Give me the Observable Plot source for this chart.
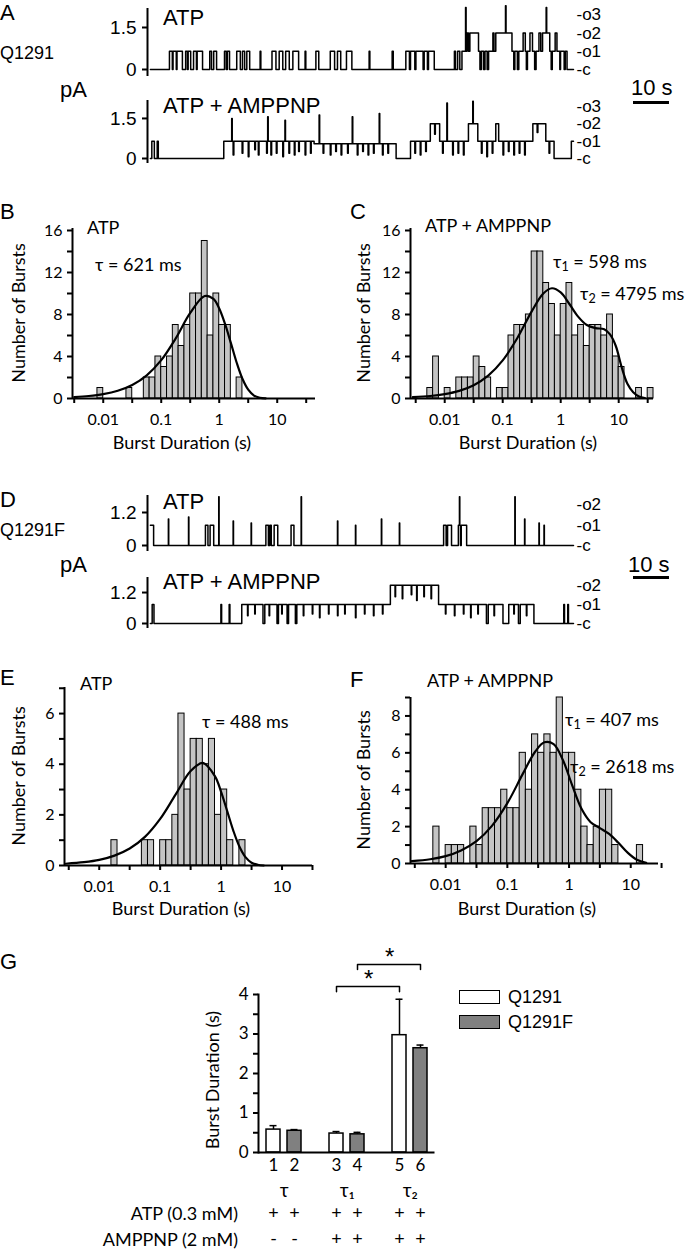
<!DOCTYPE html>
<html><head><meta charset="utf-8">
<script src="https://cdn.jsdelivr.net/npm/d3@7"></script>
<script src="https://cdn.jsdelivr.net/npm/@observablehq/plot@0.6"></script>
<style>
body{margin:0;background:#fff;}
#root{position:relative;width:693px;height:1250px;overflow:hidden;background:#fff;color:#000}
.t{position:absolute;white-space:nowrap;line-height:1}
.t sub{font-size:0.7em;vertical-align:-0.25em}
</style></head><body><div id="root"></div>
<script>
// ---------------- DATA ----------------
// Single-channel traces: [time (s), conductance level index]
const unitA = 0.65;   // pA per open channel, Q1291
const unitD = 0.74;   // pA per open channel, Q1291F
const statesA = ["c","o1","o2","o3"];
const statesD = ["c","o1","o2"];
const yTicksA = [0, 1.5];
const yTicksD = [0, 1.2];

const traceA_ATP = [[0,0],[5.3,1],[6.1,0],[6.3,1],[7.2,0],[7.4,1],[8.9,0],[9.8,1],[10.3,0],[10.5,1],[11.2,0],
 [12.0,1],[12.8,0],[13.0,1],[14.5,0],[16.5,1],[17.0,0],[17.6,1],[18.4,0],[20.6,1],[21.1,0],[21.4,1],[22.0,0],
 [24.0,1],[25.0,0],[25.6,1],[26.2,0],[26.8,1],[27.6,0],[30.5,1],[30.7,0],[33.8,1],[34.9,0],[35.8,1],[36.8,0],
 [37.6,1],[38.6,0],[39.6,1],[41.2,0],[43.0,1],[43.2,0],[46.0,1],[46.8,0],[50.0,1],[51.2,0],[52.0,1],[52.9,0],
 [54.5,1],[56.0,0],[60.8,1],[61.0,0],[67.2,1],[67.5,0],[71.0,1],[72.0,0],[72.3,1],[73.5,0],[73.8,1],[75.8,0],
 [76.1,1],[77.0,0],[77.3,1],[78.9,0],[84.5,1],[84.8,0],[85.4,1],[86.0,0],[86.6,1],[87.6,3.4],[87.75,1],[88.0,2],
 [88.4,1],[88.8,2],[91.2,1],[91.6,0],[92.0,1],[92.6,0],[93.0,1],[93.6,0],[94.0,1],[95.2,2],[95.5,1],[96.0,2],
 [98.7,3.5],[98.85,2],[100.5,1],[101.0,0],[101.3,1],[102.0,0],[102.4,1],[103.6,2],[104.2,1],[104.5,0],[104.8,1],
 [105.5,2],[106.2,1],[106.8,0],[107.2,1],[108.0,2],[108.5,1],[109.0,2],[110.0,3.4],[110.15,2],[111.0,1],[111.4,0],
 [111.7,1],[112.5,2],[113.0,1],[113.8,0],[114.0,1],[115.0,0],[115.3,1],[115.8,0],[117.6,0]];

const traceA_AMP = [[0,0],[0.4,1],[1.1,0],[1.9,1],[2.2,0],[20.4,1],[22.6,2.3],[22.75,1],[23.0,0.2],[23.2,1],
 [25.5,0.3],[25.7,1],[27.2,0.1],[27.4,1],[29.0,0.5],[29.2,1],[30.0,0.2],[30.2,1],[32.3,0.3],[32.5,1],[32.6,2.4],
 [32.75,1],[33.5,0.2],[33.7,1],[35.0,0.3],[35.2,1],[36.8,0.1],[37.0,1],[37.4,2.2],[37.55,1],[38.5,0.3],[38.7,1],
 [40.0,0.2],[40.2,1],[41.2,0.4],[41.4,1],[43.0,0.2],[43.2,1],[44.5,0.3],[44.7,1],[45.5,0.85],[46.9,2.5],[47.05,0.85],
 [48.0,0.3],[48.2,0.85],[50.0,0.2],[50.2,0.85],[51.5,0.4],[51.7,0.85],[53.0,0.2],[53.2,0.85],[54.8,0.3],[55.0,0.85],
 [56.1,2.4],[56.25,0.85],[57.5,0.2],[57.7,0.85],[59.0,0.4],[59.2,0.85],[60.5,0.2],[60.7,0.85],[62.0,0.3],[62.2,0.85],
 [63.6,2.6],[63.75,0.85],[64.5,0.2],[64.7,0.85],[66.0,0.3],[66.2,0.85],[68.3,0],[72.3,1],[73.5,0.3],[73.7,1],
 [75.0,0.2],[75.2,1],[76.5,0.4],[76.7,1],[77.8,2],[79.0,1.4],[79.2,2],[80.4,1],[81.2,0.3],[81.4,1],[82.4,3.2],
 [82.55,1],[84.0,0.2],[84.2,1],[85.5,0.3],[85.7,1],[87.0,0.2],[87.2,1],[88.4,2],[89.6,3.3],[89.75,2],[91.0,1],
 [92.0,0.3],[92.2,1],[93.5,0.1],[93.7,1],[95.0,0.3],[95.2,1],[96.0,2],[96.8,1],[98.0,0.2],[98.2,1],[99.5,0.4],
 [99.7,1],[101.0,0.2],[101.2,1],[102.5,0.3],[102.7,1],[104.0,0.2],[104.2,1],[106.3,2],[107.5,1.5],[107.7,2],
 [109.9,1],[110.8,0.3],[111.0,1],[112.2,0],[117.0,1],[117.6,1]];

const traceD_ATP = [[0,1],[0.9,0],[5.0,1.3],[5.1,0],[10.6,1.4],[10.7,0],[15.3,1],[16.0,0],[16.6,1],[17.6,0],
 [19.0,2.4],[19.1,0],[23.0,1.2],[23.1,0],[28.0,1.1],[28.1,0],[32.1,1],[32.8,0],[33.2,1],[33.6,0],[34.4,1],[35.4,0],
 [39.1,1],[39.9,0],[41.9,2.4],[42.0,0],[52.0,1.2],[52.1,0],[57.0,1.0],[57.1,0],[64.2,1.3],[64.3,0],[69.2,1.1],
 [69.3,0],[81.5,1],[82.2,0],[82.6,1],[83.7,0],[85.6,1],[85.9,2.4],[86.0,1],[86.2,0],[86.4,1],[87.9,0],[101.3,2.4],
 [101.4,0],[104.0,1.3],[104.1,0],[108.0,1.1],[108.1,0],[109.4,1.0],[109.5,0],[117.6,0]];

const traceD_AMP = [[0,0],[0.5,1],[1.0,0],[19.6,1],[19.8,0],[21.9,1],[22.1,0],[25.4,1],[27.0,0.4],[27.15,1],
 [29.0,0.5],[29.15,1],[31.3,0],[31.8,1],[33.0,0.4],[33.15,1],[35.2,0],[35.6,1],[36.5,0.5],[36.65,1],[38.0,0],
 [38.4,1],[40.3,0],[40.7,1],[42.5,0.4],[42.65,1],[45.0,0.5],[45.15,1],[47.0,0.3],[47.15,1],[49.5,0.5],[49.65,1],
 [52.0,0.4],[52.15,1],[54.0,0.5],[54.15,1],[57.0,0.3],[57.15,1],[59.5,0.5],[59.65,1],[62.0,0.4],[62.15,1],
 [64.5,0.5],[64.65,1],[66.7,2],[68.0,1.4],[68.15,2],[70.0,1.3],[70.15,2],[72.5,1.5],[72.65,2],[74.0,1.2],[74.15,2],
 [76.0,1.4],[76.15,2],[78.0,1.3],[78.15,2],[80.1,1],[82.0,0.5],[82.15,1],[84.5,0.4],[84.65,1],[87.0,0.5],[87.15,1],
 [89.0,0.3],[89.15,1],[91.0,0.5],[91.15,1],[93.4,0],[93.9,1],[95.5,0.4],[95.65,1],[98.0,0],[99.6,1],[101.0,0.5],
 [101.15,1],[102.3,0],[102.8,1],[104.5,0.4],[104.65,1],[106.6,0],[114.9,1],[115.1,0],[116.0,1],[116.2,0],[117.6,0]];

// Burst-duration histograms: log10 of bin lower edge (bins 0.1 decade wide) and counts
const histB_edges = [-2.1,-1.6,-1.3,-1.2,-1.1,-1.0,-0.9,-0.8,-0.7,-0.6,-0.5,-0.4,-0.3,-0.2,-0.1,0.0,0.1,0.3];
const histB_counts = [1,1,2,2,4,3,4,7,5,7,10,10,15,6,10,7,7,2];
const histC_edges = [-2.3,-2.2,-2.0,-1.8,-1.7,-1.6,-1.5,-1.4,-1.3,-1.1,-1.0,-0.9,-0.8,-0.7,-0.6,-0.5,-0.4,-0.3,-0.2,
 -0.1,0.0,0.1,0.2,0.3,0.4,0.5,0.6,0.7,0.8,0.9,1.0,1.3,1.5];
const histC_counts = [1,4,1,2,2,2,4,3,2,1,1,6,7,7,8,14,14,11,9,6,9,11,6,7,5,7,7,6,8,4,3,1,1];
const histE_edges = [-1.8,-1.3,-1.2,-1.0,-0.9,-0.8,-0.7,-0.6,-0.5,-0.4,-0.3,-0.2,-0.1,0.0,0.1,0.3];
const histE_counts = [1,1,1,1,1,2,6,3,5,5,4,5,2,3,1,1];
const histF_edges = [-2.2,-2.0,-1.9,-1.8,-1.6,-1.5,-1.4,-1.3,-1.2,-1.1,-1.0,-0.9,-0.8,-0.7,-0.6,-0.5,-0.4,-0.3,-0.2,
 -0.1,0.0,0.1,0.2,0.3,0.4,0.5,0.6,0.7,1.1];
const histF_counts = [2,1,1,1,2,1,3,3,3,4,3,3,6,4,7,6,7,6,9,6,6,4,2,1,2,4,4,1,1];

// Fitted curves: log10(duration) and number of bursts
const curveB_log = [-2.5,-2.25,-2.0,-1.75,-1.5,-1.25,-1.0,-0.75,-0.5,-0.25,-0.1,0.0,0.1,0.2,0.3,0.4,0.5,0.6,0.7,0.8];
const curveB_n = [0.14,0.24,0.42,0.74,1.29,2.21,3.65,5.73,8.15,9.76,9.48,8.57,7.10,5.30,3.43,1.88,0.84,0.28,0.07,0.01];
const curveC_log = [-2.55,-2.25,-2.0,-1.75,-1.5,-1.25,-1.0,-0.75,-0.5,-0.3,-0.15,0.0,0.15,0.3,0.45,0.6,0.75,0.85,0.95,1.05,1.15,1.25,1.35,1.45];
const curveC_n = [0.13,0.24,0.42,0.73,1.27,2.18,3.63,5.74,8.30,10.0,10.5,10.1,9.0,7.8,7.0,6.7,6.6,6.1,5.0,3.0,1.4,0.6,0.2,0.05];
const curveE_log = [-2.55,-2.25,-2.0,-1.75,-1.5,-1.25,-1.0,-0.75,-0.5,-0.3,-0.1,0.0,0.1,0.2,0.3,0.4,0.5,0.6,0.7];
const curveE_n = [0.07,0.13,0.22,0.39,0.67,1.13,1.84,2.79,3.73,4.05,3.52,2.91,2.15,1.38,0.75,0.33,0.11,0.03,0.0];
const curveF_log = [-2.55,-2.25,-2.0,-1.75,-1.5,-1.25,-1.0,-0.75,-0.55,-0.4,-0.25,-0.1,0.05,0.2,0.35,0.5,0.65,0.8,0.95,1.1,1.25];
const curveF_n = [0.13,0.23,0.40,0.71,1.21,2.04,3.27,4.86,6.06,6.57,6.47,5.61,4.25,2.98,2.24,1.92,1.60,1.12,0.59,0.20,0.04];

const xMajor = [0.01, 0.1, 1, 10];
const xMajorLabels = ["0.01", "0.1", "1", "10"];
const xMinor = [0.00316, 0.0316, 0.316, 3.16, 31.6];

// Panel G: mean burst durations (s) with SEM
const gLabels = ["1","2","3","4","5","6"];
const gConstruct = ["Q1291","Q1291F","Q1291","Q1291F","Q1291","Q1291F"];
const gValues = [0.58, 0.55, 0.48, 0.46, 2.97, 2.64];
const gErrors = [0.10, 0.03, 0.05, 0.05, 0.91, 0.08];
const gTau = ["τ","τ₁","τ₂"];
const gTauFirst = ["1","3","5"];
const gATP = ["+","+","+","+","+","+"];
const gAMPPNP = ["-","-","+","+","+","+"];
const gSig = [["3","5"],["4","6"]];
const legendNames = ["Q1291","Q1291F"];
const legendFills = ["white","#808080"];

// ---------------- LAYOUT ----------------
const ARIAL = '"Liberation Sans", Arial, sans-serif';
const CAL = 'Lato, "Open Sans", "DejaVu Sans", sans-serif';
const root = document.getElementById("root");
const fmt = d => String(d);

function label(html, x, y, o = {}) {
  const d = document.createElement("div");
  d.className = "t";
  d.innerHTML = html;
  d.style.fontSize = (o.size || 18) + "px";
  d.style.fontFamily = o.font || CAL;
  d.style.left = x + "px"; d.style.top = y + "px";
  const tx = o.anchor === "middle" ? "-50%" : o.anchor === "end" ? "-100%" : "0";
  d.style.transform = o.rotate ? "translate(-50%,-50%) rotate(-90deg)" : `translate(${tx},-50%)`;
  root.appendChild(d);
}
function place(svg, left, top) {
  svg.style.position = "absolute";
  svg.style.left = left + "px"; svg.style.top = top + "px";
  svg.style.overflow = "visible";
  root.appendChild(svg);
}

// ---- traces ----
const tDomain = [-0.8, 117.6];
const traceL = 147, traceR = 573;
const pxPerSec = (traceR - traceL) / (tDomain[1] - tDomain[0]);

function tracePlot(o) {
  const h = o.bottom - o.top;
  const ymin = -(o.bottom - o.zeroY) / o.k;
  const ymax = ymin + h / o.k;
  const pts = o.data.map(([t, l]) => ({t, i: l * o.unit}));
  const marks = [
    Plot.ruleX([tDomain[0]], {strokeWidth: 2}),
    Plot.line(pts, {x: "t", y: "i", curve: "step-after", stroke: "black", strokeWidth: 1.5}),
    Plot.axisY({ticks: o.yTicks, tickSize: 5, tickPadding: 6, strokeWidth: 2, tickFormat: fmt}),
    Plot.text(o.states, {x: tDomain[1], y: (d, i) => i * o.unit, text: d => "-" + d, textAnchor: "start", dx: 3, fontSize: 17})
  ];
  if (o.scaleBarY != null) {
    const barStart = tDomain[0] + (633 - traceL) / pxPerSec;
    marks.push(Plot.ruleY([(o.zeroY - o.scaleBarY) / o.k], {x1: barStart, x2: barStart + 10, strokeWidth: 3}));
  }
  const svg = Plot.plot({
    width: 693, height: h, marginLeft: traceL, marginRight: 693 - traceR, marginTop: 0, marginBottom: 0,
    x: {domain: tDomain, label: null, axis: null}, y: {domain: [ymin, ymax], label: null},
    style: {fontFamily: ARIAL, fontSize: "19px", color: "black", background: "none", overflow: "visible"},
    marks
  });
  place(svg, 0, o.top);
}

tracePlot({top: 8, bottom: 76, zeroY: 69, k: 28, unit: unitA, data: traceA_ATP, yTicks: yTicksA, states: statesA, scaleBarY: 102});
tracePlot({top: 100, bottom: 163, zeroY: 158, k: 26.7, unit: unitA, data: traceA_AMP, yTicks: yTicksA, states: statesA});
tracePlot({top: 495, bottom: 551, zeroY: 545, k: 27.5, unit: unitD, data: traceD_ATP, yTicks: yTicksD, states: statesD, scaleBarY: 577});
tracePlot({top: 577, bottom: 628, zeroY: 623, k: 25.8, unit: unitD, data: traceD_AMP, yTicks: yTicksD, states: statesD});

// ---- histograms ----
function histPlot(o) {
  const bins = o.edges.map((e, i) => ({e, n: o.counts[i]}));
  const curve = o.curveLog.map((L, i) => ({L, n: o.curveN[i]}));
  const svg = Plot.plot({
    width: o.right - o.left, height: o.bottom - o.top,
    marginLeft: o.axisX - o.left, marginRight: o.right - o.xEnd,
    marginTop: o.axisTop - o.top, marginBottom: o.bottom - o.axisBottom,
    x: {type: "log", domain: [10 ** o.lo, 10 ** o.hi], label: null},
    y: {domain: [0, o.ymax], label: null},
    style: {fontFamily: CAL, fontSize: "16px", color: "black", background: "none", overflow: "visible"},
    marks: [
      Plot.rectY(bins, {x1: d => 10 ** d.e, x2: d => 10 ** (d.e + 0.1), y: "n", fill: "#c4c4c4", stroke: "black", strokeWidth: 1}),
      Plot.line(curve, {x: d => 10 ** d.L, y: "n", curve: "catmull-rom", strokeWidth: 2.2}),
      Plot.ruleY([0], {strokeWidth: 2}),
      Plot.ruleX([10 ** o.lo], {strokeWidth: 2}),
      Plot.axisX({ticks: xMajor, tickFormat: d => xMajorLabels[xMajor.indexOf(d)], tickSize: 5, tickPadding: 10, strokeWidth: 2}),
      Plot.axisX({ticks: xMinor, tickSize: 5, tickFormat: () => "", strokeWidth: 2}),
      Plot.axisY({ticks: o.yTicks, tickSize: 5, tickPadding: 5, strokeWidth: 2, tickFormat: fmt}),
      Plot.axisY({ticks: o.yMinor, tickSize: 5, tickFormat: () => "", strokeWidth: 2})
    ]
  });
  place(svg, o.left, o.top);
}
histPlot({left: 0, right: 340, top: 200, bottom: 460, axisX: 72, xEnd: 315, axisTop: 228, axisBottom: 398,
  lo: -2.53, hi: 1.66, ymax: 16.19, edges: histB_edges, counts: histB_counts, curveLog: curveB_log, curveN: curveB_n,
  yTicks: [0,4,8,12,16], yMinor: [2,6,10,14]});
histPlot({left: 340, right: 693, top: 200, bottom: 460, axisX: 410, xEnd: 653, axisTop: 228, axisBottom: 398,
  lo: -2.59, hi: 1.6, ymax: 16.19, edges: histC_edges, counts: histC_counts, curveLog: curveC_log, curveN: curveC_n,
  yTicks: [0,4,8,12,16], yMinor: [2,6,10,14]});
histPlot({left: 0, right: 340, top: 670, bottom: 930, axisX: 64, xEnd: 312, axisTop: 687, axisBottom: 865,
  lo: -2.57, hi: 1.5, ymax: 7.03, edges: histE_edges, counts: histE_counts, curveLog: curveE_log, curveN: curveE_n,
  yTicks: [0,2,4,6], yMinor: [1,3,5,7]});
histPlot({left: 340, right: 693, top: 670, bottom: 930, axisX: 410, xEnd: 658, axisTop: 697, axisBottom: 863,
  lo: -2.57, hi: 1.45, ymax: 9.0, edges: histF_edges, counts: histF_counts, curveLog: curveF_log, curveN: curveF_n,
  yTicks: [0,2,4,6,8], yMinor: [1,3,5,7,9]});

// ---- panel G ----
const gSlots = ["1","2","s1","3","4","s2","5","6"];
const gStep = 21.5;
const gData = gLabels.map((lab, i) => ({label: lab, construct: gConstruct[i], value: gValues[i], err: gErrors[i], atp: gATP[i], amp: gAMPPNP[i]}));
const gGroups = gTau.map((t, i) => ({tau: t, first: gTauFirst[i]}));
const errTop = d => d.value + d.err;
const sigLines = [], sigStarMarks = [];
gSig.forEach(([a, b], i) => {
  const lvl = 4.2 + i * 0.56;
  sigLines.push({p: i, x: a, y: lvl - 0.13}, {p: i, x: a, y: lvl}, {p: i, x: b, y: lvl}, {p: i, x: b, y: lvl - 0.13});
  const half = (gSlots.indexOf(b) - gSlots.indexOf(a)) * gStep / 2;
  sigStarMarks.push(Plot.text([{x: a, y: lvl}], {x: "x", y: "y", text: () => "*", dx: half, dy: -7, fontSize: 24, fontFamily: ARIAL}));
});
const gSvg = Plot.plot({
  width: 693, height: 310, marginLeft: 258, marginRight: 258.5, marginTop: 54, marginBottom: 98,
  x: {type: "band", domain: gSlots, paddingInner: 0.35, paddingOuter: 0.28, label: null},
  y: {domain: [0, 4], label: null},
  color: {domain: legendNames, range: legendFills},
  style: {fontFamily: CAL, fontSize: "17px", color: "black", background: "none", overflow: "visible"},
  marks: [
    Plot.ruleX(gData, {x: "label", y1: "value", y2: errTop, strokeWidth: 1.5}),
    Plot.tickY(gData, {x: "label", y: errTop, strokeWidth: 1.5, insetLeft: 3.5, insetRight: 3.5}),
    Plot.barY(gData, {x: "label", y: "value", fill: "construct", stroke: "black", strokeWidth: 1.5}),
    Plot.ruleY([0], {strokeWidth: 2}),
    Plot.frame({anchor: "left", strokeWidth: 2}),
    Plot.axisY({ticks: [0,1,2,3,4], tickSize: 5, tickPadding: 5, strokeWidth: 2, tickFormat: fmt}),
    Plot.axisY({ticks: [0.5,1.5,2.5,3.5], tickSize: 5, tickFormat: () => "", strokeWidth: 2}),
    Plot.axisX({ticks: gLabels, tickSize: 0, tickPadding: 6}),
    Plot.text(gGroups, {x: "first", y: 0, text: "tau", dx: gStep / 2, dy: 38, fontSize: 19}),
    Plot.text(gData, {x: "label", y: 0, text: "atp", dy: 61, fontSize: 18}),
    Plot.text(gData, {x: "label", y: 0, text: "amp", dy: 87, fontSize: 18}),
    Plot.line(sigLines, {x: "x", y: "y", z: "p", strokeWidth: 1.5}),
    ...sigStarMarks
  ]
});
place(gSvg, 0, 940);

// legend
legendNames.forEach((n, i) => {
  const b = document.createElement("div");
  b.style.cssText = `position:absolute;left:459px;top:${990 + i * 25}px;width:39px;height:12px;border:1.5px solid #000;background:${legendFills[i]}`;
  root.appendChild(b);
  label(n, 508, 997 + i * 25, {size: 18, font: ARIAL});
});

// ---------------- TEXT ----------------
[["A",0,13],["B",0,212],["C",350,212],["D",0,500],["E",0,678],["F",350,680],["G",0,962]].forEach(([t,x,y]) => label(t, x, y, {size: 22, font: ARIAL}));
label("ATP", 163, 18, {size: 22, font: ARIAL});
label("ATP + AMPPNP", 163, 106, {size: 22, font: ARIAL});
label("Q1291", 0, 53, {size: 18, font: ARIAL});
label("pA", 60, 90, {size: 22, font: ARIAL});
label("10 s", 631, 88, {size: 22, font: ARIAL});
label("ATP", 163, 502, {size: 22, font: ARIAL});
label("ATP + AMPPNP", 163, 582, {size: 22, font: ARIAL});
label("Q1291F", 0, 530, {size: 18, font: ARIAL});
label("pA", 60, 565, {size: 22, font: ARIAL});
label("10 s", 628, 565, {size: 22, font: ARIAL});

label("ATP", 87, 227, {size: 18});
label("τ = 621 ms", 95, 264, {size: 18});
label("ATP + AMPPNP", 425, 225, {size: 18});
label("τ<sub>1</sub> = 598 ms", 553, 263, {size: 18});
label("τ<sub>2</sub> = 4795 ms", 580, 295, {size: 18});
label("ATP", 80, 683, {size: 18});
label("τ = 488 ms", 202, 721, {size: 18});
label("ATP + AMPPNP", 427, 680, {size: 18});
label("τ<sub>1</sub> = 407 ms", 565, 721, {size: 18});
label("τ<sub>2</sub> = 2618 ms", 570, 768, {size: 18});

[[182,442],[528,442],[181,908],[527,908]].forEach(([x,y]) => label("Burst Duration (s)", x, y, {size: 18, anchor: "middle"}));
[[18,313],[363,313],[18,776],[363,780]].forEach(([x,y]) => label("Number of Bursts", x, y, {size: 18, rotate: true}));
label("Burst Duration (s)", 212, 1080, {size: 18, rotate: true});
label("ATP (0.3 mM)", 238, 1213, {size: 18, anchor: "end"});
label("AMPPNP (2 mM)", 238, 1239, {size: 18, anchor: "end"});
</script></body></html>
